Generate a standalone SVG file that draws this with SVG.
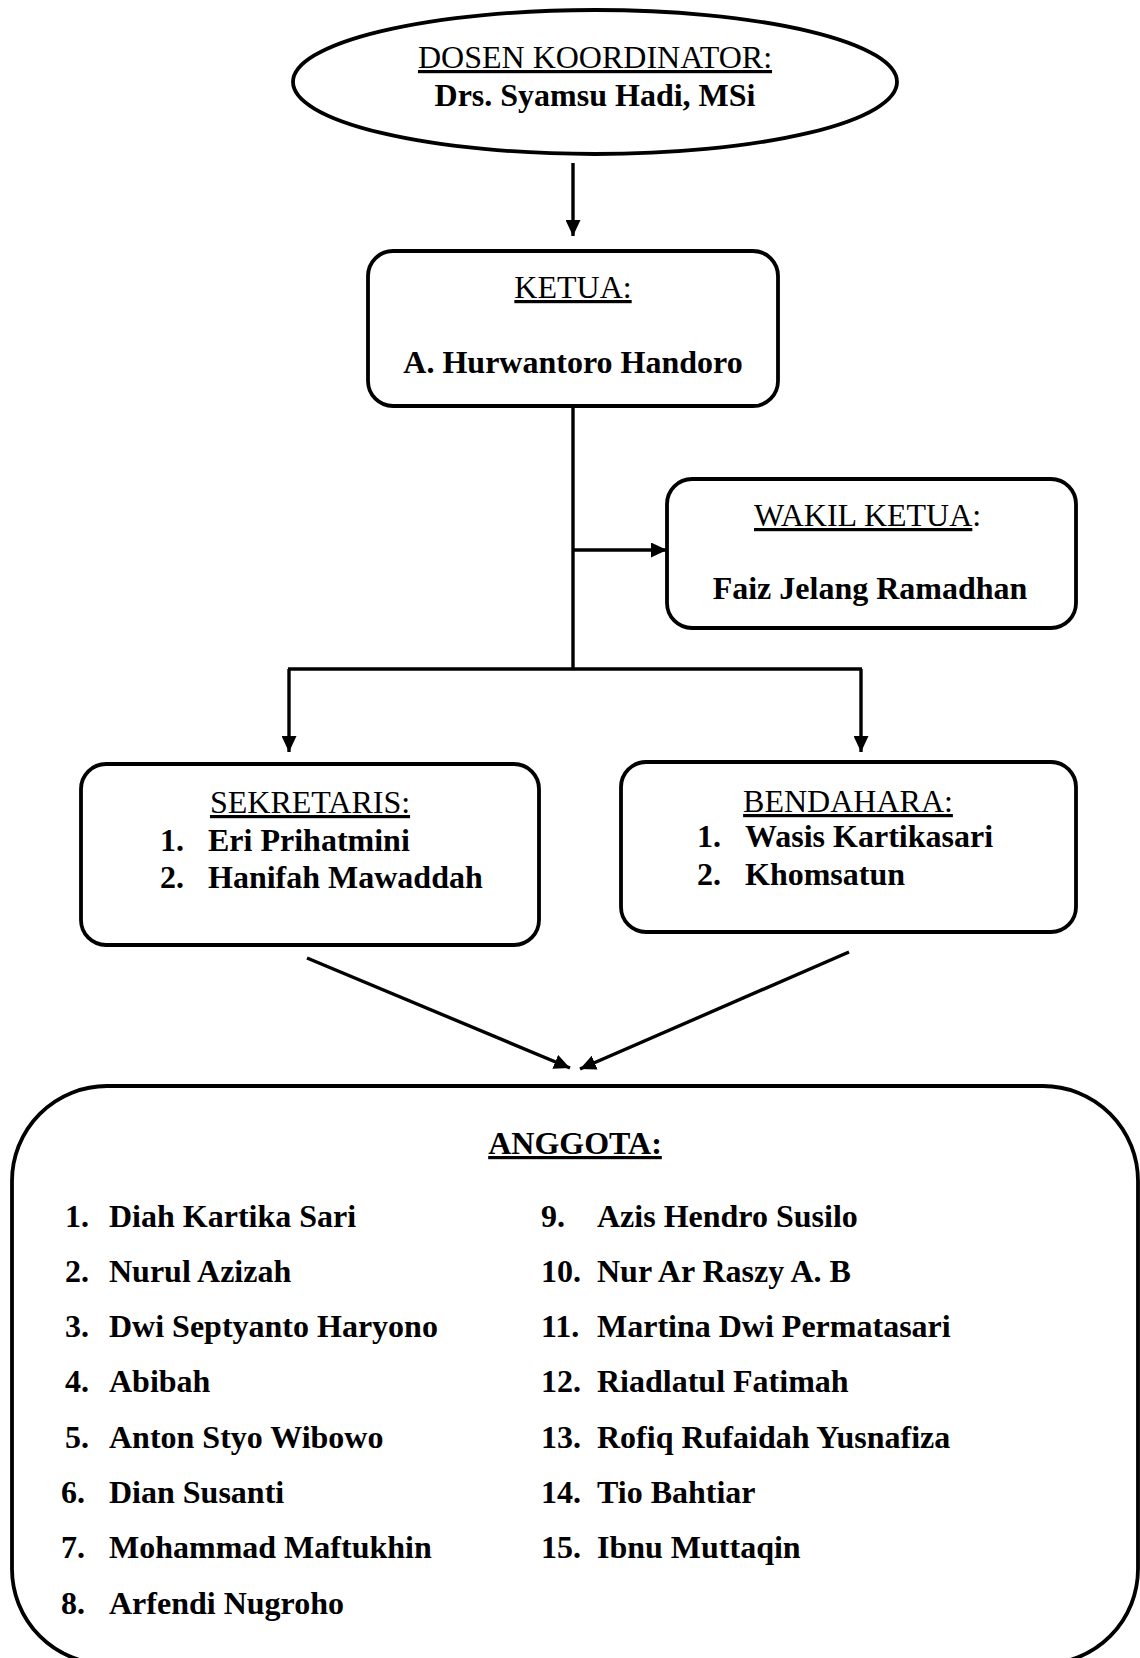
<svg xmlns="http://www.w3.org/2000/svg" width="1140" height="1658" viewBox="0 0 1140 1658">
<style>
.shape{fill:#fff;stroke:#000;stroke-width:3.8}
.conn{fill:none;stroke:#000;stroke-width:3.4}
text{font-family:"Liberation Serif","Times New Roman",serif;font-size:32px;fill:#000}
.b{font-weight:bold}
.c{text-anchor:middle}
.u{text-decoration:underline}
</style>
<defs>
<marker id="ah" markerUnits="userSpaceOnUse" markerWidth="17" markerHeight="15" refX="16" refY="7.5" orient="auto">
<path d="M0,0 L16,7.5 L0,15 z" fill="#000"/>
</marker>
</defs>
<rect width="1140" height="1658" fill="#fff"/>
<g id="connectors">
<line class="conn" x1="573" y1="163" x2="573" y2="236" marker-end="url(#ah)"/>
<line class="conn" x1="573" y1="406" x2="573" y2="670"/>
<line class="conn" x1="573" y1="550" x2="667" y2="550" marker-end="url(#ah)"/>
<line class="conn" x1="288" y1="669" x2="862" y2="669"/>
<line class="conn" x1="289" y1="669" x2="289" y2="752" marker-end="url(#ah)"/>
<line class="conn" x1="861" y1="669" x2="861" y2="752" marker-end="url(#ah)"/>
<line class="conn" x1="307" y1="958" x2="570" y2="1068" marker-end="url(#ah)"/>
<line class="conn" x1="849" y1="952" x2="580" y2="1069" marker-end="url(#ah)"/>
</g>
<g id="dosen">
<ellipse class="shape" cx="595" cy="82" rx="302" ry="72" stroke-width="4.2"/>
<text class="c u" x="595" y="68">DOSEN KOORDINATOR:</text>
<text class="c b" x="595" y="106">Drs. Syamsu Hadi, MSi</text>
</g>
<g id="ketua">
<rect class="shape" x="368" y="251" width="410" height="155" rx="25"/>
<text class="c u" x="573" y="298">KETUA:</text>
<text class="c b" x="573" y="373">A. Hurwantoro Handoro</text>
</g>
<g id="wakil">
<rect class="shape" x="667" y="479" width="409" height="149" rx="25"/>
<text x="754" y="526"><tspan class="u">WAKIL KETUA</tspan>:</text>
<text class="c b" x="870" y="599">Faiz Jelang Ramadhan</text>
</g>
<g id="sekretaris">
<rect class="shape" x="81" y="764" width="458" height="181" rx="25"/>
<text class="c u" x="310" y="813">SEKRETARIS:</text>
<text class="b" x="160" y="851">1.</text>
<text class="b" x="208" y="851">Eri Prihatmini</text>
<text class="b" x="160" y="888">2.</text>
<text class="b" x="208" y="888">Hanifah Mawaddah</text>
</g>
<g id="bendahara">
<rect class="shape" x="621" y="762" width="455" height="170" rx="25"/>
<text class="c u" x="848" y="812">BENDAHARA:</text>
<text class="b" x="697" y="847">1.</text>
<text class="b" x="745" y="847">Wasis Kartikasari</text>
<text class="b" x="697" y="885">2.</text>
<text class="b" x="745" y="885">Khomsatun</text>
</g>
<g id="anggota">
<rect class="shape" x="12" y="1086" width="1126" height="578" rx="95"/>
<text class="c b u" x="575" y="1154">ANGGOTA:</text>
<text class="b" x="65" y="1227">1.</text><text class="b" x="109" y="1227">Diah Kartika Sari</text>
<text class="b" x="65" y="1282">2.</text><text class="b" x="109" y="1282">Nurul Azizah</text>
<text class="b" x="65" y="1337">3.</text><text class="b" x="109" y="1337">Dwi Septyanto Haryono</text>
<text class="b" x="65" y="1392">4.</text><text class="b" x="109" y="1392">Abibah</text>
<text class="b" x="65" y="1448">5.</text><text class="b" x="109" y="1448">Anton Styo Wibowo</text>
<text class="b" x="61" y="1503">6.</text><text class="b" x="109" y="1503">Dian Susanti</text>
<text class="b" x="61" y="1558">7.</text><text class="b" x="109" y="1558">Mohammad Maftukhin</text>
<text class="b" x="61" y="1614">8.</text><text class="b" x="109" y="1614">Arfendi Nugroho</text>
<text class="b" x="541" y="1227">9.</text><text class="b" x="597" y="1227">Azis Hendro Susilo</text>
<text class="b" x="541" y="1282">10.</text><text class="b" x="597" y="1282">Nur Ar Raszy A. B</text>
<text class="b" x="541" y="1337">11.</text><text class="b" x="597" y="1337">Martina Dwi Permatasari</text>
<text class="b" x="541" y="1392">12.</text><text class="b" x="597" y="1392">Riadlatul Fatimah</text>
<text class="b" x="541" y="1448">13.</text><text class="b" x="597" y="1448">Rofiq Rufaidah Yusnafiza</text>
<text class="b" x="541" y="1503">14.</text><text class="b" x="597" y="1503">Tio Bahtiar</text>
<text class="b" x="541" y="1558">15.</text><text class="b" x="597" y="1558">Ibnu Muttaqin</text>
</g>
</svg>
